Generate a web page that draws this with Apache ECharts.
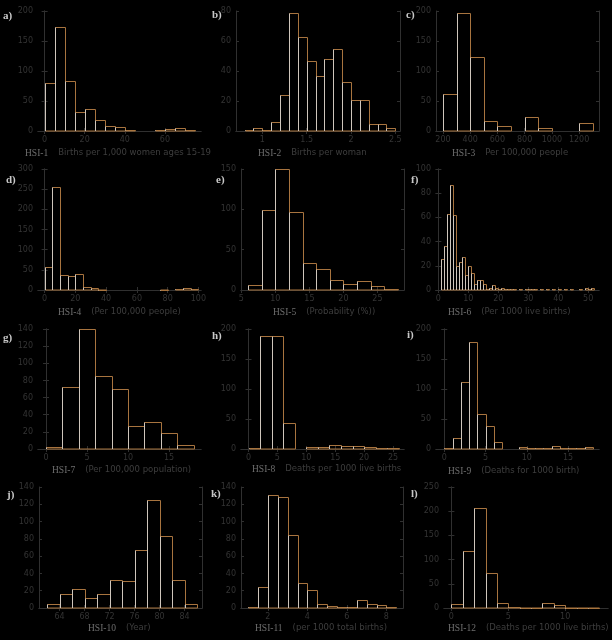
<!DOCTYPE html>
<html><head><meta charset="utf-8">
<script src="https://cdn.jsdelivr.net/npm/echarts@6/dist/echarts.min.js"></script>
<style>html,body{margin:0;padding:0;background:#000;}#c{width:612px;height:640px;}</style>
</head><body><div id="c"></div>
<script>
// ---- data (counts per bin, [first bin start, bin width], x tick labels) ----
const aCounts = [80,174,83,31,36,18,8,6,1,0,0,2,4,5,2];
const aBins = [0,5];
const aTicks = [0,20,40,60];

const bCounts = [1,2,1,6,24,79,63,47,37,48,55,33,21,21,5,5,2];
const bBins = [0.8,0.1];
const bTicks = [1,1.5,2,2.5];

const cCounts = [61,196,124,17,8,0,24,5,0,0,14];
const cBins = [200,100];
const cTicks = [200,400,600,800,1000,1200];

const dCounts = [56,255,36,35,39,8,4,1,0,0,0,0,0,0,0,1,0,2,4,2];
const dBins = [0,5];
const dTicks = [0,20,40,60,80,100];

const eCounts = [6,99,150,97,33,26,12,8,11,5,1];
const eBins = [6,2];
const eTicks = [5,10,15,20,25];

const fCounts = [26,36,63,87,62,20,23,27,12,20,14,5,8,8,5,1,2,4,2,1,2,1,1,1,1,0,1,0,1,1,1,1,0,1,0,1,0,1,0,1,0,1,0,1,0,0,1,0,2,1,2];
const fBins = [1,1];
const fTicks = [0,10,20,30,40,50];

const gCounts = [2,72,140,85,70,27,31,19,5];
const gBins = [0,2];
const gTicks = [0,5,10,15];

const hCounts = [2,189,189,43,0,3,3,6,5,5,3,2,1];
const hBins = [0,2];
const hTicks = [0,5,10,15,20,25];

const iCounts = [1,18,111,178,58,38,11,0,0,4,1,2,2,5,2,1,2,4];
const iBins = [0,1];
const iTicks = [0,5,10,15];

const jCounts = [5,16,22,12,16,32,31,67,125,83,32,5];
const jBins = [62,2];
const jTicks = [64,68,72,76,80,84];

const kCounts = [1,24,131,128,85,29,21,5,2,1,1,9,5,3,1];
const kBins = [1,0.5];
const kTicks = [2,4,6,8];

const lCounts = [9,118,206,73,10,3,1,1,11,6,1,1,1];
const lBins = [0,1];
const lTicks = [0,5,10];

const panelLetters = ['a)','b)','c)','d)','e)','f)','g)','h)','i)','j)','k)','l)'];
const hsiNames = ['HSI-1','HSI-2','HSI-3','HSI-4','HSI-5','HSI-6','HSI-7','HSI-8','HSI-9','HSI-10','HSI-11','HSI-12'];
const hsiUnits = ['Births per 1,000 women ages 15-19','Births per woman','Per 100,000 people',
  '(Per 100,000 people)','(Probability (%))','(Per 1000 live births)',
  '(Per 100,000 population)','Deaths per 1000 live births','(Deaths for 1000 birth)',
  '(Year)','(per 1000 total births)','(Deaths per 1000 live births)'];

// ---- layout ----
const panels = [
  {counts:aCounts,bins:aBins,ticks:aTicks,grid:[38,11,163,120],x:[-3.3,78],y:[200,50],letter:[3,18],label:[25,153]},
  {counts:bCounts,bins:bBins,ticks:bTicks,grid:[236,11,164,120],x:[0.703,2.553],y:[80,20],letter:[212,17],label:[258,153]},
  {counts:cCounts,bins:cBins,ticks:cTicks,grid:[436,11,163,120],x:[149,1346],y:[200,50],letter:[406,17],label:[452,153]},
  {counts:dCounts,bins:dBins,ticks:dTicks,grid:[38,169,163,121],x:[-4.3,101.7],y:[300,50],letter:[6,182],label:[58,312]},
  {counts:eCounts,bins:eBins,ticks:eTicks,grid:[241,169,163,121],x:[4.95,28.9],y:[150,50],letter:[216,182],label:[273,312]},
  {counts:fCounts,bins:fBins,ticks:fTicks,grid:[436,169,163,121],x:[-0.8,53.6],y:[100,20],letter:[411,182],label:[448,312]},
  {counts:gCounts,bins:gBins,ticks:gTicks,grid:[38,329,163,120],x:[-0.98,18.9],y:[140,20],letter:[3,340],label:[52,470]},
  {counts:hCounts,bins:hBins,ticks:hTicks,grid:[241,329,163,120],x:[-1.3,26.9],y:[200,50],letter:[212,338],label:[252,469]},
  {counts:iCounts,bins:iBins,ticks:iTicks,grid:[436,329,163,120],x:[-1.0,18.75],y:[200,50],letter:[407,337],label:[448,471]},
  {counts:jCounts,bins:jBins,ticks:jTicks,grid:[39,487,163,121],x:[60.7,86.8],y:[140,20],letter:[7,497],label:[88,628]},
  {counts:kCounts,bins:kBins,ticks:kTicks,grid:[241,487,162,121],x:[0.64,8.84],y:[140,20],letter:[211,496],label:[255,628]},
  {counts:lCounts,bins:lBins,ticks:lTicks,grid:[444,487,164,121],x:[-0.65,13.76],y:[250,50],letter:[411,496],label:[448,628]}
];

const frameColor = '#303030';
const tickLabelColor = '#343434';
const barStroke = '#a8743f';
const barLeft = '#cfc6bc';

const grid = [], xAxis = [], yAxis = [], series = [], graphic = [];
panels.forEach((p, i) => {
  grid.push({left:p.grid[0], top:p.grid[1], width:p.grid[2], height:p.grid[3], containLabel:false});
  const axLine = {show:true, lineStyle:{color:frameColor, width:1}};
  const tickStyle = {show:true, inside:true, length:3, lineStyle:{color:frameColor}};
  const fmt = v => String(v);
  xAxis.push({type:'value', gridIndex:i, position:'bottom', min:p.x[0], max:p.x[1],
    axisLine:axLine, splitLine:{show:false},
    axisTick:Object.assign({customValues:p.ticks}, tickStyle),
    axisLabel:{customValues:p.ticks, formatter:fmt, color:tickLabelColor, fontSize:8, fontFamily:'DejaVu Sans', margin:5}});
  xAxis.push({type:'value', gridIndex:i, position:'top', min:p.x[0], max:p.x[1],
    axisLine:axLine, splitLine:{show:false},
    axisTick:Object.assign({customValues:p.ticks}, tickStyle),
    axisLabel:{show:false}});
  yAxis.push({type:'value', gridIndex:i, position:'left', min:0, max:p.y[0], interval:p.y[1],
    axisLine:axLine, splitLine:{show:false}, axisTick:tickStyle,
    axisLabel:{formatter:fmt, color:tickLabelColor, fontSize:8, fontFamily:'DejaVu Sans', margin:5}});
  yAxis.push({type:'value', gridIndex:i, position:'right', min:0, max:p.y[0], interval:p.y[1],
    axisLine:axLine, splitLine:{show:false}, axisTick:tickStyle, axisLabel:{show:false}});
  const data = p.counts.map((c, k) => [p.bins[0] + k*p.bins[1], p.bins[0] + (k+1)*p.bins[1], c]);
  series.push({type:'custom', xAxisIndex:2*i, yAxisIndex:2*i, data:data, silent:true, clip:false,
    renderItem:function(params, api){
      const v = api.value(2);
      if (!v) return null;
      const p0 = api.coord([api.value(0), 0]);
      const p1 = api.coord([api.value(1), v]);
      const x0 = Math.round(p0[0]) + 0.5, x1 = Math.round(p1[0]) + 0.5;
      const yb = p0[1], yt = Math.round(p1[1]) + 0.5;
      return {type:'group', children:[
        {type:'rect', shape:{x:x0, y:yt, width:x1-x0, height:yb-yt}, style:{fill:null, stroke:barStroke, lineWidth:1}},
        {type:'line', shape:{x1:x0, y1:yb, x2:x0, y2:yt}, style:{stroke:barLeft, lineWidth:1}}
      ]};
    }});
  graphic.push({type:'text', left:p.letter[0], top:p.letter[1]-7,
    style:{text:panelLetters[i], fill:'#c8c8c8', font:'bold 11px "Liberation Serif"'}});
  graphic.push({type:'text', left:p.label[0], top:p.label[1]-6,
    style:{text:'{a|' + hsiNames[i] + '}   {b|' + hsiUnits[i] + '}',
      rich:{a:{fill:'#6e6e6e', fontFamily:'Liberation Serif', fontSize:9.5},
            b:{fill:'#3e3e3e', fontFamily:'DejaVu Sans', fontSize:8.5}}}});
});

const chart = echarts.init(document.getElementById('c'), null, {renderer:'canvas'});
chart.setOption({backgroundColor:'#000', animation:false, grid, xAxis, yAxis, series, graphic});
</script></body></html>
